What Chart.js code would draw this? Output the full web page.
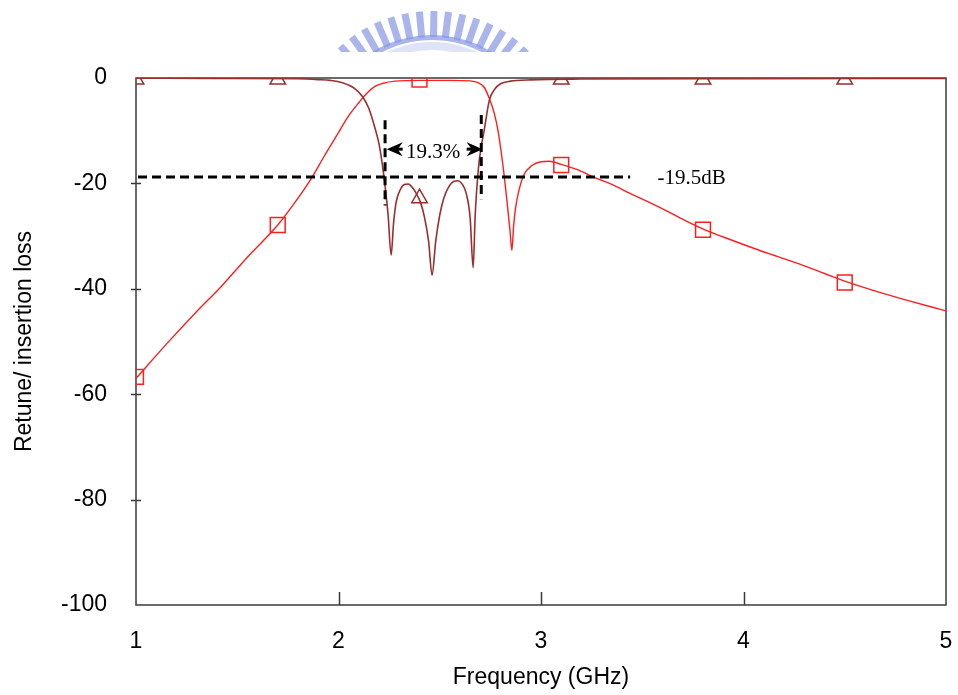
<!DOCTYPE html>
<html>
<head>
<meta charset="utf-8">
<script src="https://cdn.jsdelivr.net/npm/chart.js@4/dist/chart.umd.min.js"></script>
<style>
  html, body { margin: 0; padding: 0; background: #fff; }
  #wrap { width: 958px; height: 695px; }
</style>
</head>
<body>
<div id="wrap"><canvas id="chart" width="958" height="695"></canvas></div>
<script>
// --- values ---

// return loss trace (dark red, triangles)
const s11Freq = [1.0, 1.4, 1.8, 1.9, 1.96, 2.02, 2.08, 2.12, 2.15, 2.18, 2.2, 2.215, 2.23, 2.245, 2.26,
  2.272, 2.285, 2.305, 2.325, 2.345, 2.365, 2.385, 2.405, 2.425, 2.445, 2.462, 2.48, 2.5, 2.52,
  2.545, 2.57, 2.59, 2.61, 2.63, 2.65, 2.665, 2.675, 2.69, 2.705, 2.72, 2.745, 2.77, 2.8, 2.85,
  2.95, 3.2, 4.0, 5.0];
const s11Db = [-0.05, -0.08, -0.15, -0.3, -0.45, -0.9, -2.0, -3.6, -5.8, -9.5, -12.5, -16, -20.5, -26, -33.6,
  -27.5, -23.5, -21.2, -20.2, -20.1, -20.8, -22.0, -23.6, -26.5, -31, -37.4, -31, -26, -22.8,
  -20.6, -19.6, -19.5, -20.1, -21.8, -26.5, -36, -26, -17.5, -13, -9.8, -4.2, -2.2, -1.1, -0.6,
  -0.35, -0.2, -0.12, -0.08];

// insertion loss trace (red, squares)
const s21Freq = [1.0, 1.15, 1.3, 1.42, 1.55, 1.7, 1.8, 1.87, 1.93, 1.99, 2.05, 2.1, 2.14, 2.18, 2.22,
  2.28, 2.4, 2.55, 2.65, 2.69, 2.72, 2.745, 2.77, 2.79, 2.815, 2.835, 2.847, 2.856, 2.865, 2.875,
  2.89, 2.915, 2.955, 3.0, 3.04, 3.1, 3.18, 3.26, 3.35, 3.44, 3.54, 3.63, 3.72, 3.81, 3.93, 4.05,
  4.17, 4.29, 4.4, 4.51, 4.64, 4.8, 5.0];
const s21Db = [-57.0, -50.5, -44.3, -39.6, -34.0, -27.9, -22.8, -18.8, -14.8, -11.0, -7.2, -4.7, -2.9, -1.6, -1.0,
  -0.6, -0.45, -0.45, -0.55, -0.9, -1.8, -3.9, -6.8, -10.5, -17.5, -24.5, -29, -32.7, -28, -24.5,
  -21.5, -18.4, -16.6, -15.9, -15.8, -16.4, -17.4, -18.8, -20.2, -21.9, -23.7, -25.4, -27.2, -28.8, -30.6, -32.3,
  -33.9, -35.5, -37.1, -38.7, -40.3, -42.1, -44.2];

// marker positions
const triFreq = [1.0, 1.7, 2.4, 3.1, 3.8, 4.5];
const triDb = [-0.3, -0.3, -22.8, -0.3, -0.3, -0.3];
const sqFreq = [1.0, 1.7, 2.4, 3.1, 3.8, 4.5];
const sqDb = [-56.7, -27.9, -0.3, -16.5, -28.8, -38.8];

// -19.5 dB reference and bandwidth markers
const refFreq = [1.01, 3.44];
const refDb = [-18.8, -18.8];
const bwLeftFreq = [2.23, 2.23];
const bwLeftDb = [-8, -24.2];
const bwRightFreq = [2.705, 2.705];
const bwRightDb = [-7, -23];
const arrowFreq = [2.238, 2.712];
const arrowDb = -13.5;
const bwLabel = { text: '19.3%', x: 2.467, y: -14.1 };
const refLabel = { text: '-19.5dB', x: 3.575, y: -19.0 };

// axes
const xTicks = [1, 2, 3, 4, 5];
const yTicks = [0, -20, -40, -60, -80, -100];

const pts = (xs, ys) => xs.map((x, i) => ({ x, y: ys[i] }));

const DARK = '#9c2e2e';
const RED = '#ff1e1e';
const SANS = "'Liberation Sans', Arial, sans-serif";
const SERIF = "'Liberation Serif', 'Times New Roman', serif";

// faint logo at the top
const logoPlugin = {
  id: 'logo',
  beforeDraw(chart) {
    const ctx = chart.ctx;
    ctx.save();
    ctx.beginPath();
    ctx.rect(0, 0, chart.width, 52);
    ctx.clip();
    const cx = 432, cy = 148;
    ctx.strokeStyle = 'rgba(214,220,244,0.8)';
    ctx.lineWidth = 8;
    ctx.beginPath();
    ctx.arc(cx, cy, 102, Math.PI, 2 * Math.PI);
    ctx.stroke();
    ctx.fillStyle = 'rgba(132,150,226,0.7)';
    ctx.beginPath();
    ctx.arc(cx, cy, 113, Math.PI, 2 * Math.PI);
    ctx.arc(cx, cy, 108, 2 * Math.PI, Math.PI, true);
    ctx.fill();
    for (let a = -138; a <= -42; a += 6.1) {
      ctx.save();
      ctx.translate(cx, cy);
      ctx.rotate(a * Math.PI / 180 + Math.PI / 2);
      ctx.fillRect(-3.5, -137, 7, 26);
      ctx.restore();
    }
    ctx.restore();
  }
};

// frame and tick marks
const framePlugin = {
  id: 'frame',
  beforeDatasetsDraw(chart) {
    const { ctx, chartArea: a, scales } = chart;
    ctx.save();
    ctx.strokeStyle = '#3a3a3a';
    ctx.lineWidth = 1.5;
    ctx.strokeRect(a.left, a.top, a.right - a.left, a.bottom - a.top);
    ctx.beginPath();
    yTicks.forEach(v => {
      const y = Math.round(scales.y.getPixelForValue(v)) + 0.5;
      if (v === 0 || v === -100) return;
      ctx.moveTo(a.left - 5, y);
      ctx.lineTo(a.left + 5, y);
    });
    xTicks.forEach(v => {
      if (v === xTicks[0] || v === xTicks[xTicks.length - 1]) return;
      const x = Math.round(scales.x.getPixelForValue(v)) + 0.5;
      ctx.moveTo(x, a.bottom);
      ctx.lineTo(x, a.bottom - 13);
    });
    ctx.stroke();
    ctx.restore();
  }
};

// arrowheads and labels
const notesPlugin = {
  id: 'notes',
  afterDatasetsDraw(chart) {
    const { ctx, scales: { x, y } } = chart;
    ctx.save();
    ctx.fillStyle = '#000';
    const ay = y.getPixelForValue(arrowDb);
    const head = (tip, dir) => {
      ctx.beginPath();
      ctx.moveTo(tip, ay);
      ctx.lineTo(tip + dir * 16, ay - 7);
      ctx.lineTo(tip + dir * 11, ay);
      ctx.lineTo(tip + dir * 16, ay + 7);
      ctx.closePath();
      ctx.fill();
      ctx.fillRect(dir > 0 ? tip + 8 : tip - 16, ay - 1.5, 8, 3);
    };
    head(x.getPixelForValue(arrowFreq[0]), 1);
    head(x.getPixelForValue(arrowFreq[1]), -1);

    ctx.font = '21px ' + SERIF;
    ctx.textBaseline = 'middle';
    ctx.textAlign = 'center';
    ctx.fillText(bwLabel.text, x.getPixelForValue(bwLabel.x), y.getPixelForValue(bwLabel.y));
    ctx.textAlign = 'left';
    ctx.fillText(refLabel.text, x.getPixelForValue(refLabel.x), y.getPixelForValue(refLabel.y));
    ctx.restore();
  }
};

const dashed = (xs, ys) => ({
  data: pts(xs, ys),
  borderColor: '#000',
  borderWidth: 3,
  borderDash: [9, 5],
  pointRadius: 0,
  tension: 0,
  clip: 0
});

new Chart(document.getElementById('chart'), {
  type: 'line',
  data: {
    datasets: [
      dashed(refFreq, refDb),
      dashed(bwLeftFreq, bwLeftDb),
      dashed(bwRightFreq, bwRightDb),
      {
        data: pts(triFreq, triDb),
        showLine: false,
        pointStyle: 'triangle',
        pointRadius: 9,
        pointBorderColor: DARK,
        pointBackgroundColor: 'rgba(0,0,0,0)',
        pointBorderWidth: 1.5,
        clip: 0
      },
      {
        data: pts(sqFreq, sqDb),
        showLine: false,
        pointStyle: 'rect',
        pointRadius: 10.5,
        pointBorderColor: RED,
        pointBackgroundColor: 'rgba(0,0,0,0)',
        pointBorderWidth: 1.5,
        clip: 0
      },
      {
        data: pts(s11Freq, s11Db),
        borderColor: DARK,
        borderWidth: 1.6,
        pointRadius: 0,
        cubicInterpolationMode: 'monotone',
        clip: 0
      },
      {
        data: pts(s21Freq, s21Db),
        borderColor: RED,
        borderWidth: 1.4,
        pointRadius: 0,
        cubicInterpolationMode: 'monotone',
        clip: 0
      }
    ]
  },
  options: {
    responsive: false,
    animation: false,
    devicePixelRatio: 1,
    events: [],
    layout: { padding: { top: 78, right: 11, left: 0, bottom: 0 } },
    plugins: { legend: { display: false }, tooltip: { enabled: false } },
    scales: {
      x: {
        type: 'linear',
        min: 1, max: 5,
        afterBuildTicks: s => { s.ticks = xTicks.map(v => ({ value: v })); },
        afterFit: s => { s.height = 695 - 605; s.paddingLeft = 0; s.paddingRight = 0; },
        grid: { display: false, drawTicks: false },
        border: { display: false },
        ticks: { color: '#000', padding: 23, maxRotation: 0, font: { family: SANS, size: 23 } },
        title: {
          display: true, text: 'Frequency (GHz)', color: '#000',
          font: { family: SANS, size: 23 }, padding: { top: 0, bottom: 4 }
        }
      },
      y: {
        min: -100, max: 0,
        afterBuildTicks: s => { s.ticks = yTicks.map(v => ({ value: v })); },
        afterFit: s => { s.width = 136; s.paddingTop = 0; s.paddingBottom = 0; },
        grid: { display: false, drawTicks: false },
        border: { display: false },
        ticks: { color: '#000', padding: 29, font: { family: SANS, size: 23 } },
        title: {
          display: true, text: 'Retune/ insertion loss', color: '#000',
          font: { family: SANS, size: 23 }, padding: { top: 11, bottom: 0 }
        }
      }
    }
  },
  plugins: [logoPlugin, framePlugin, notesPlugin]
});
</script>
</body>
</html>
